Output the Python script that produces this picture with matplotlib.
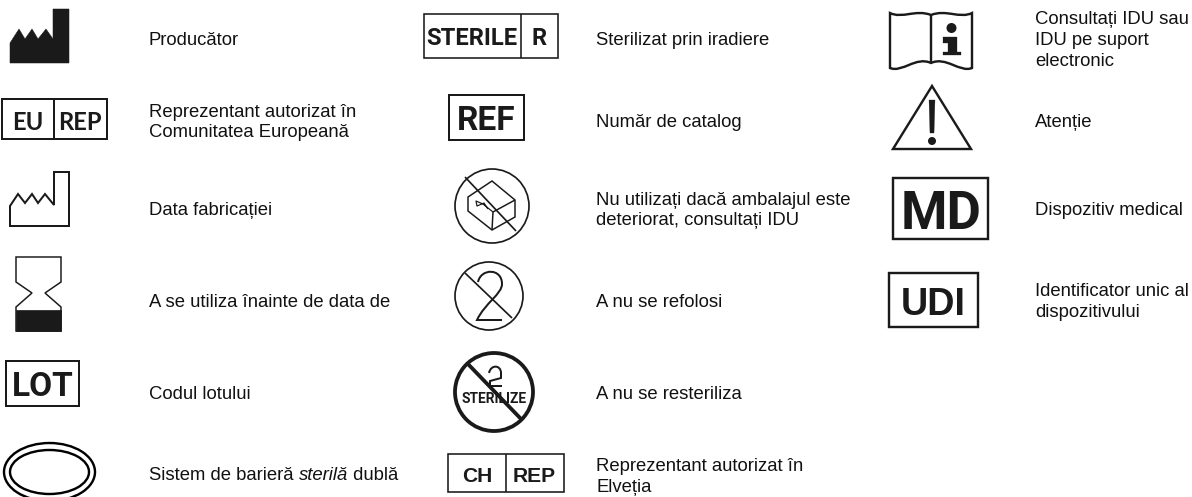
import matplotlib
matplotlib.use("Agg")
import matplotlib.pyplot as plt
from matplotlib.patches import Rectangle, Circle, Ellipse, Polygon, PathPatch
from matplotlib.path import Path

W, H = 1192, 497
FONT = "Liberation Sans"
BOLD = "Liberation Sans"
NARROW = "Roboto"
INK = "#1a1a1a"
SIZE = 13.35

col1 = [("Producător", 38), ("Reprezentant autorizat în\nComunitatea Europeană", 120),
        ("Data fabricației", 208), ("A se utiliza înainte de data de", 300), ("Codul lotului", 392)]
col2 = [("Sterilizat prin iradiere", 38), ("Număr de catalog", 120),
        ("Nu utilizați dacă ambalajul este\ndeteriorat, consultați IDU", 208),
        ("A nu se refolosi", 300), ("A nu se resteriliza", 392),
        ("Reprezentant autorizat în\nElveția", 474.5)]
col3 = [("Consultați IDU sau\nIDU pe suport\nelectronic", 38), ("Atenție", 120),
        ("Dispozitiv medical", 208), ("Identificator unic al\ndispozitivului", 299.5)]
double_barrier = ["Sistem de barieră ", "sterilă", " dublă"]

fig = plt.figure(figsize=(W / 100, H / 100), dpi=100)
ax = fig.add_axes([0, 0, 1, 1])
ax.set_xlim(0, W)
ax.set_ylim(H, 0)
ax.axis("off")


def px(p):
    return p * 0.72


def caption(x, rows):
    for s, y in rows:
        ax.text(x, y + 2.5, s, fontsize=SIZE, family=FONT, va="center", ha="left",
                color="#111111", linespacing=1.27)


def box(x0, y0, x1, y1, lw=2.0, color=INK):
    ax.add_patch(Rectangle((x0, y0), x1 - x0, y1 - y0, fill=False, ec=color, lw=px(lw)))


def vline(x, y0, y1, lw=2.0, color=INK):
    ax.plot([x, x], [y0, y1], color=color, lw=px(lw), solid_capstyle="butt")


def label(x, y, s, cap, family=BOLD):
    ax.text(x, y, s, fontsize=px(cap / 0.716), family=family, weight="bold",
            ha="center", va="center_baseline", color=INK)


def poly(pts, fill=False, lw=2.0):
    ax.add_patch(Polygon(pts, closed=True, fill=fill, fc=INK if fill else "none",
                         ec=INK, lw=px(lw), joinstyle="miter"))


def line(pts, lw=2.0, cap="butt"):
    ax.plot([p[0] for p in pts], [p[1] for p in pts], color=INK, lw=px(lw),
            solid_capstyle=cap, solid_joinstyle="round")


def curve(verts, codes, lw=2.0):
    ax.add_patch(PathPatch(Path(verts, codes), fill=False, ec=INK, lw=px(lw), capstyle="butt"))


def prohibit(cx, cy, r, a, b, lw=2.0):
    ax.add_patch(Circle((cx, cy), r, fill=False, ec=INK, lw=px(lw)))
    line([a, b], lw=lw)


caption(149, col1)
caption(596, col2)
caption(1035, col3)

# mixed roman / italic caption
r = fig.canvas.get_renderer()
xc = 149
for part, style in zip(double_barrier, ["normal", "italic", "normal"]):
    t = ax.text(xc, 476, part, fontsize=SIZE, family=FONT, style=style, va="center", ha="left",
                color="#111111")
    xc += t.get_window_extent(r).width

# factory, filled
poly([(10, 63), (10, 43), (19, 29), (25, 39), (32, 29), (38, 39), (46, 29), (53, 39),
      (53, 9), (69, 9), (69, 63)], fill=True, lw=0.5)
# EU REP
box(2, 99, 107, 139)
vline(54, 99, 139)
label(28, 120, "EU", 17, "Lato")
label(80, 120, "REP", 17, "Lato")
# factory, outline
poly([(10, 226), (10, 206), (18, 194), (25, 203), (32, 194), (38, 203), (45, 194), (54, 205),
      (54, 172), (69, 172), (69, 226)], lw=2)
# hourglass
poly([(16, 257), (61, 257), (61, 282), (45, 293), (61, 307), (61, 331), (16, 331), (16, 307),
      (32, 293), (16, 282)], lw=1.5)
ax.add_patch(Rectangle((16, 310), 45, 21, fc=INK, ec=INK, lw=0.5))
# LOT
box(6, 361, 79, 406)
label(43, 384, "LOT", 24, NARROW)
# double ellipse
ax.add_patch(Ellipse((49.5, 472), 91, 58, fill=False, ec="black", lw=px(2.4)))
ax.add_patch(Ellipse((49.5, 472), 79, 44, fill=False, ec="black", lw=px(2.4)))

# STERILE R
box(424, 14, 558, 58, lw=1.6)
vline(521, 14, 58, lw=1.6)
label(472, 36, "STERILE", 17, NARROW)
label(539, 36, "R", 17, NARROW)
# REF
box(449, 95, 524, 140)
label(486, 118, "REF", 24, NARROW)
# damaged package
prohibit(492, 206, 37, (465, 177), (516, 231), lw=1.7)
poly([(492, 181), (515, 200), (515, 217), (492, 230), (468, 211), (468, 197)], lw=1.5)
line([(493, 212), (515, 200)], lw=1.5)
line([(493, 212), (492, 230)], lw=1.5)
line([(493, 212), (483, 204), (476, 201), (477, 206), (484, 203), (488, 209)], lw=1.2)
# single use
prohibit(489, 296, 34, (465, 273), (512, 318), lw=1.7)
curve([(478, 282), (481, 268), (502, 268), (502, 284), (502, 294), (485, 303), (477, 320), (502, 320)],
      [Path.MOVETO, Path.CURVE4, Path.CURVE4, Path.CURVE4, Path.CURVE4, Path.CURVE4, Path.LINETO, Path.LINETO],
      lw=2.0)
# do not resterilize
curve([(489, 373), (491, 364), (501, 365), (501, 373), (501, 378), (490, 381), (490, 386), (502, 386)],
      [Path.MOVETO, Path.CURVE4, Path.CURVE4, Path.CURVE4, Path.LINETO, Path.LINETO, Path.LINETO, Path.LINETO],
      lw=2.0)
ax.text(494, 397.5, "STERILIZE", fontsize=px(13.8), family=NARROW, weight="bold", ha="center",
        va="center_baseline", color=INK)
prohibit(494, 392, 39, (467, 363), (522, 420), lw=3.8)
# CH REP
box(448, 454, 564, 492, lw=1.6)
vline(506, 454, 492, lw=1.6)
label(477, 474, "CH", 15)
label(534, 474, "REP", 15)

# book
book = Path(
    [(890, 13), (902, 19), (916, 9), (931, 15), (946, 9), (960, 19), (972, 13),
     (972, 68), (960, 73), (946, 56), (931, 63), (916, 56), (902, 73), (890, 68), (890, 13)],
    [Path.MOVETO, Path.CURVE4, Path.CURVE4, Path.CURVE4, Path.CURVE4, Path.CURVE4, Path.CURVE4,
     Path.LINETO, Path.CURVE4, Path.CURVE4, Path.CURVE4, Path.CURVE4, Path.CURVE4, Path.CURVE4, Path.CLOSEPOLY])
ax.add_patch(PathPatch(book, fill=False, ec=INK, lw=px(2.4)))
vline(931, 15, 63, lw=2.4)
ax.add_patch(Circle((951.5, 28), 5, fc=INK, ec="none"))
poly([(943, 37), (957, 37), (957, 52), (961, 52), (961, 55), (943, 55), (943, 52), (948, 52),
      (948, 43), (943, 43)], fill=True, lw=0.3)
# warning
poly([(932, 86), (971, 149), (893, 149)], lw=2.4)
poly([(929, 100), (935, 100), (934, 133), (930, 133)], fill=True, lw=0.3)
ax.add_patch(Circle((932, 141), 4, fc=INK, ec="none"))
# MD
box(893, 178, 988, 239, lw=2.4)
label(941, 209, "MD", 38, NARROW)
# UDI
box(889, 273, 978, 327, lw=2.4)
label(933, 301, "UDI", 27)

fig.savefig("out.png", dpi=100, facecolor="white")
